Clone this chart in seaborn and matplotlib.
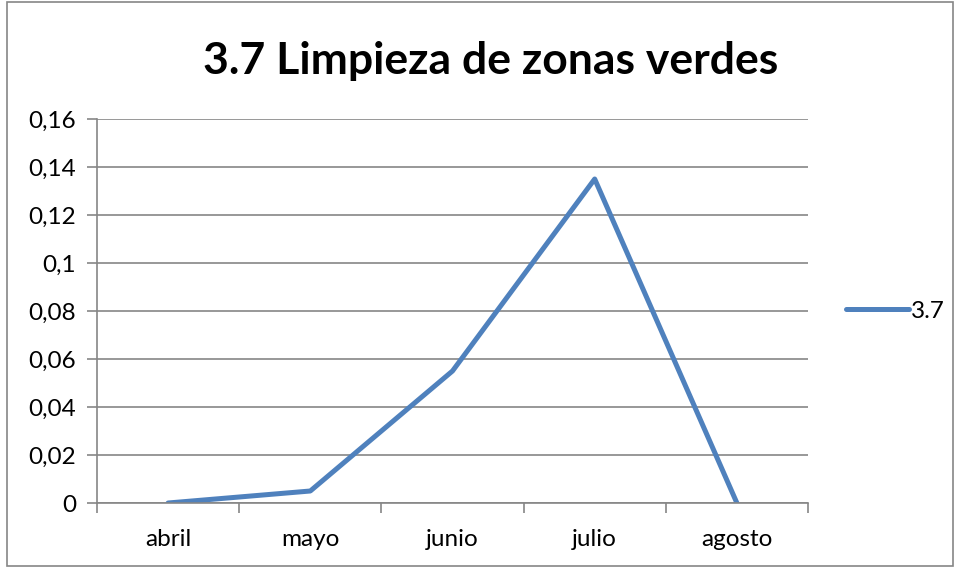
import pandas as pd
import matplotlib.pyplot as plt
import seaborn as sns
from matplotlib.patches import Rectangle

months = ['abril', 'mayo', 'junio', 'julio', 'agosto']
values = [0, 0.005, 0.055, 0.135, 0]
series = '3.7'
yticks = [0, 0.02, 0.04, 0.06, 0.08, 0.1, 0.12, 0.14, 0.16]
ytick_labels = ['0', '0,02', '0,04', '0,06', '0,08', '0,1', '0,12', '0,14', '0,16']

df = pd.DataFrame({'mes': months, 'valor': values, 'serie': series})

sns.set_style('white')
plt.rcParams['font.family'] = ['Lato', 'DejaVu Sans']
plt.rcParams['text.color'] = 'black'
plt.rcParams['xtick.color'] = 'black'
plt.rcParams['ytick.color'] = 'black'
gray = '#868686'

fig = plt.figure(figsize=(9.56, 5.68), dpi=100)
ax = fig.add_axes([97 / 956, 65 / 568, 711 / 956, 384 / 568])

sns.lineplot(data=df, x='mes', y='valor', hue='serie', palette=['#4F81BD'],
             linewidth=3.6, sort=False, ax=ax, legend=True)

ax.set_xlim(-0.5, 4.5)
ax.set_ylim(0, 0.16)
ax.set_yticks(yticks)
ax.set_yticklabels(ytick_labels)
ax.yaxis.grid(True, color=gray, linewidth=1.2)
ax.set_axisbelow(True)
ax.set_xticks(range(len(months)))
ax.set_xticklabels(months)
ax.set_xticks([i - 0.5 for i in range(len(months) + 1)], minor=True)
ax.tick_params(axis='x', which='major', bottom=True, length=0, pad=19, labelsize=17.5)
ax.tick_params(axis='x', which='minor', bottom=True, length=7, color=gray, width=1.2)
ax.tick_params(axis='y', left=True, length=7, color=gray, width=1.2, pad=8, labelsize=17.5)
ax.set_xlabel('')
ax.set_ylabel('')
for side in ['top', 'right']:
    ax.spines[side].set_visible(False)
for side in ['left', 'bottom']:
    ax.spines[side].set_color(gray)
    ax.spines[side].set_linewidth(1.2)

leg = ax.legend(loc='center left', bbox_to_anchor=(1.022, 0.5), frameon=False,
                fontsize=17.5, handlelength=2.6, handletextpad=0.1)
for h in leg.get_lines():
    h.set_linewidth(3.6)
    h.set_solid_capstyle('round')

fig.text(0.513, 0.893, '3.7 Limpieza de zonas verdes', ha='center', va='center',
         fontsize=32, fontweight='bold')
fig.patches.append(Rectangle((0.007, 0.003), 0.99, 0.994, transform=fig.transFigure,
                             fill=False, edgecolor=gray, linewidth=1.2))

fig.savefig('out.png', dpi=100)
